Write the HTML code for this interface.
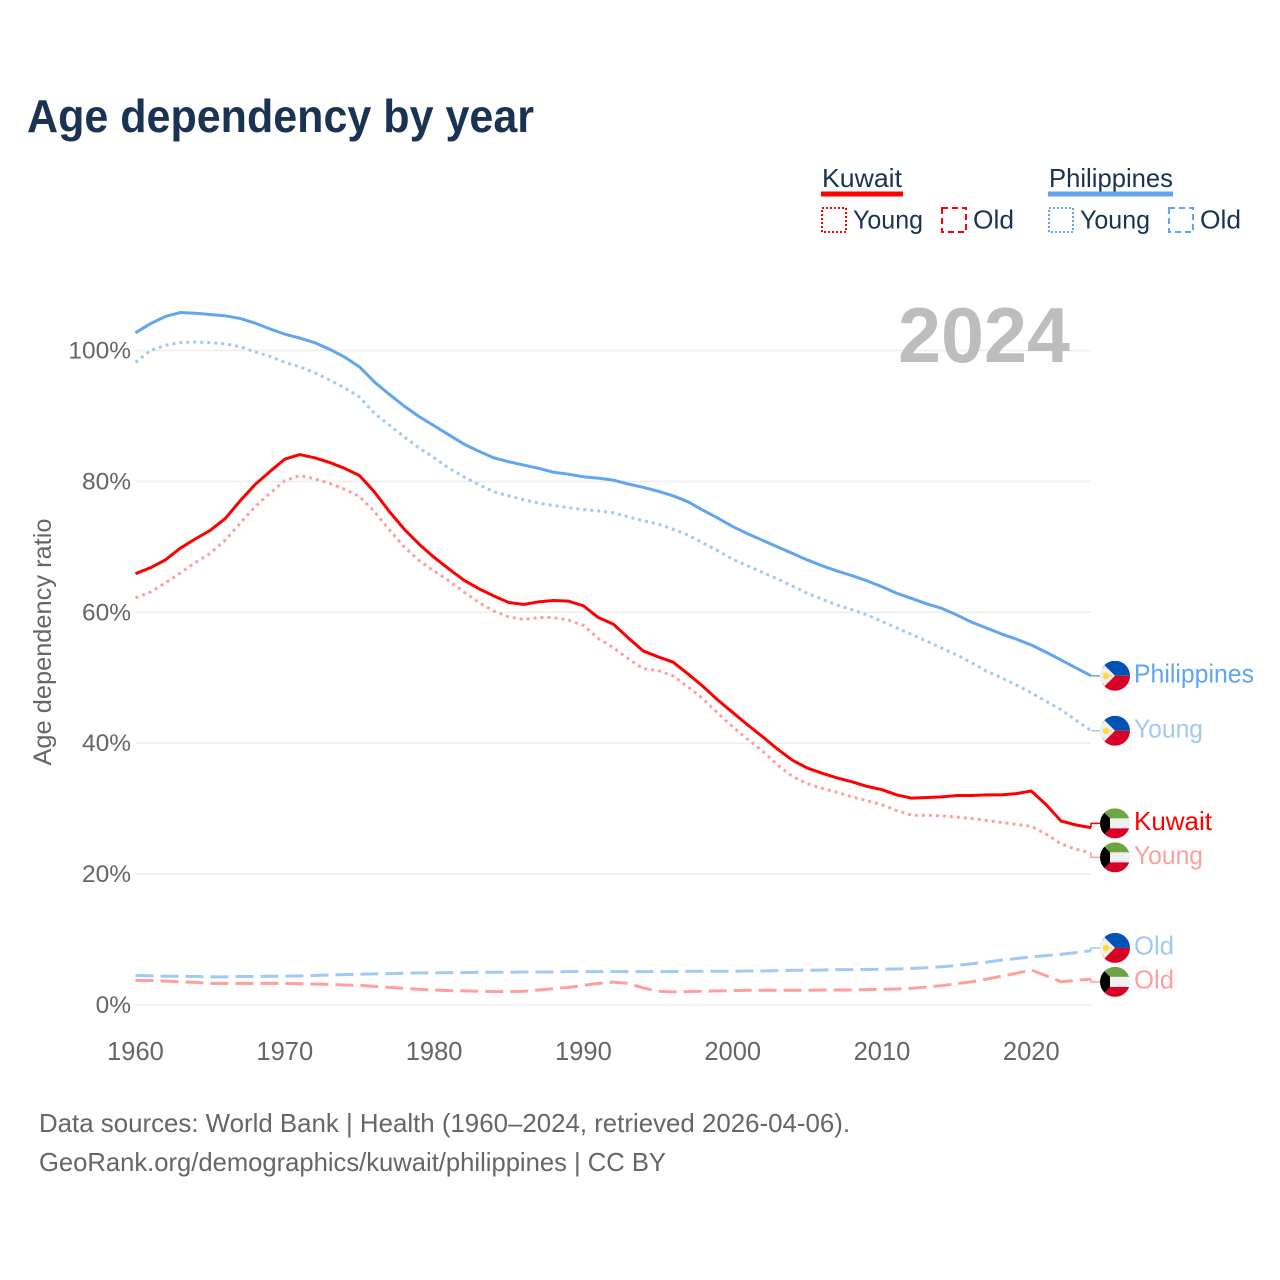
<!DOCTYPE html>
<html lang="en">
<head>
<meta charset="utf-8">
<title>Age dependency by year</title>
<style>
html,body{margin:0;padding:0;background:#fff;}
svg{display:block;font-family:"Liberation Sans",sans-serif;}
</style>
</head>
<body>
<svg id="chart" xmlns="http://www.w3.org/2000/svg" width="1280" height="1280" viewBox="0 0 1280 1280">
  <defs>
    <clipPath id="flag-clip"><circle cx="15" cy="15" r="15"/></clipPath>
    <symbol id="flag-ph" width="30" height="30" viewBox="0 0 30 30">
      <g clip-path="url(#flag-clip)">
        <rect width="30" height="15" fill="#0052b4"/>
        <rect y="15" width="30" height="15" fill="#d80027"/>
        <polygon points="0,0 15,15 0,30" fill="#f0f0f0"/>
        <rect x="0" y="0" width="2" height="30" fill="#f0f0f0"/>
        <circle cx="6" cy="15" r="3.3" fill="#ffda44"/>
        <circle cx="3.5" cy="6.5" r="1" fill="#ffda44"/>
        <circle cx="3.5" cy="23.5" r="1" fill="#ffda44"/>
        <circle cx="11" cy="15" r="1" fill="#ffda44"/>
      </g>
    </symbol>
    <symbol id="flag-kw" width="30" height="30" viewBox="0 0 30 30">
      <g clip-path="url(#flag-clip)">
        <rect width="30" height="10" fill="#6da544"/>
        <rect y="10" width="30" height="10" fill="#f0f0f0"/>
        <rect y="20" width="30" height="10" fill="#d80027"/>
        <polygon points="0,0 10,10 10,20 0,30" fill="#000"/>
      </g>
    </symbol>
  </defs>

  <text x="27" y="132" font-size="46" font-weight="700" fill="#1a3352" textLength="507" lengthAdjust="spacingAndGlyphs">Age dependency by year</text>

  <g font-size="26" fill="#1a3352">
    <text x="822" y="187" textLength="80" lengthAdjust="spacingAndGlyphs">Kuwait</text>
    <rect x="821" y="191.5" width="82" height="5" fill="#ff0000"/>
    <rect x="822" y="208" width="24" height="24" fill="none" stroke="#ff0000" stroke-width="2" stroke-dasharray="2 2"/>
    <text x="853" y="228.5" textLength="70" lengthAdjust="spacingAndGlyphs">Young</text>
    <rect x="942" y="208" width="24" height="24" fill="none" stroke="#ff0000" stroke-width="2" stroke-dasharray="6 4"/>
    <text x="973" y="228.5" textLength="41" lengthAdjust="spacingAndGlyphs">Old</text>
    <text x="1049" y="187" textLength="124" lengthAdjust="spacingAndGlyphs">Philippines</text>
    <rect x="1048" y="191.5" width="125" height="5" fill="#60a5ee"/>
    <rect x="1049" y="208" width="24" height="24" fill="none" stroke="#60a5ee" stroke-width="2" stroke-dasharray="2 2"/>
    <text x="1080" y="228.5" textLength="70" lengthAdjust="spacingAndGlyphs">Young</text>
    <rect x="1169" y="208" width="24" height="24" fill="none" stroke="#60a5ee" stroke-width="2" stroke-dasharray="6 4"/>
    <text x="1200" y="228.5" textLength="41" lengthAdjust="spacingAndGlyphs">Old</text>
  </g>

  <g id="grid"></g>
  <g id="y-ticks"></g>
  <g id="x-ticks"></g>
  <text transform="translate(51,642) rotate(-90)" text-anchor="middle" font-size="25" fill="#666" textLength="247" lengthAdjust="spacingAndGlyphs">Age dependency ratio</text>
  <text id="year-label" x="898" y="362" font-size="78" font-weight="700" fill="#bdbdbd" textLength="172" lengthAdjust="spacingAndGlyphs">2024</text>
  <g id="lines"></g>
  <g id="end-labels"></g>

  <text x="39" y="1132" font-size="26" fill="#666" textLength="811" lengthAdjust="spacingAndGlyphs">Data sources: World Bank | Health (1960–2024, retrieved 2026-04-06).</text>
  <text x="39" y="1171" font-size="26" fill="#666" textLength="627" lengthAdjust="spacingAndGlyphs">GeoRank.org/demographics/kuwait/philippines | CC BY</text>
</svg>
<script>
const startYear = 1960;
const yTickValues = [0, 20, 40, 60, 80, 100];
const xTickYears = [1960, 1970, 1980, 1990, 2000, 2010, 2020];

const philippinesTotal = [102.7,104.1,105.2,105.8,105.7,105.5,105.3,104.9,104.2,103.3,102.5,101.9,101.2,100.2,99.0,97.5,95.2,93.3,91.5,89.9,88.5,87.1,85.7,84.6,83.6,83.0,82.5,82.0,81.4,81.1,80.7,80.5,80.2,79.6,79.1,78.5,77.8,76.9,75.6,74.4,73.1,72.0,71.0,70.0,69.0,68.0,67.1,66.3,65.6,64.8,63.9,62.9,62.1,61.3,60.6,59.6,58.5,57.6,56.7,55.9,55.0,53.9,52.7,51.5,50.3];
const philippinesYoung = [98.2,100.0,100.8,101.2,101.3,101.2,101.0,100.6,99.8,99.1,98.2,97.5,96.6,95.5,94.3,92.9,90.4,88.6,86.8,85.1,83.6,82.0,80.7,79.5,78.4,77.8,77.2,76.7,76.3,76.0,75.7,75.5,75.2,74.6,74.0,73.5,72.7,71.8,70.6,69.4,68.1,67.1,66.1,65.1,64.0,62.9,62.0,61.1,60.4,59.6,58.6,57.6,56.6,55.6,54.5,53.5,52.3,51.0,50.0,48.9,47.7,46.4,45.1,43.5,41.9];
const philippinesOld = [4.5,4.45,4.4,4.4,4.35,4.3,4.3,4.35,4.35,4.4,4.4,4.45,4.5,4.6,4.65,4.7,4.75,4.8,4.85,4.9,4.9,4.95,4.95,5.0,5.0,5.0,5.05,5.05,5.05,5.1,5.1,5.1,5.1,5.1,5.1,5.1,5.1,5.15,5.15,5.15,5.15,5.2,5.2,5.25,5.3,5.3,5.35,5.4,5.4,5.45,5.45,5.5,5.6,5.7,5.85,6.05,6.3,6.55,6.85,7.1,7.35,7.55,7.75,8.0,8.3];
const kuwaitTotal = [65.9,66.8,68.0,69.8,71.2,72.5,74.3,77.0,79.5,81.5,83.4,84.1,83.6,82.9,82.0,80.9,78.4,75.4,72.7,70.4,68.4,66.6,64.9,63.6,62.5,61.5,61.2,61.6,61.8,61.7,61.0,59.2,58.2,56.1,54.1,53.2,52.4,50.6,48.7,46.6,44.7,42.8,41.0,39.1,37.4,36.2,35.4,34.7,34.1,33.4,32.9,32.1,31.6,31.7,31.8,32.0,32.0,32.1,32.1,32.3,32.7,30.6,28.1,27.5,27.1];
const kuwaitYoung = [62.2,63.1,64.5,66.0,67.6,69.0,71.0,73.6,76.1,78.2,80.1,80.9,80.4,79.7,78.8,77.7,75.4,72.6,70.0,67.9,66.3,64.8,63.1,61.5,60.2,59.3,58.9,59.2,59.2,58.8,58.0,56.0,54.6,52.9,51.4,51.1,50.3,48.6,46.8,44.6,42.5,40.6,38.8,36.7,34.9,33.8,33.1,32.5,31.8,31.2,30.6,29.7,29.0,29.0,28.9,28.7,28.5,28.2,27.9,27.6,27.3,26.1,24.6,23.8,23.2];
const kuwaitOld = [3.77,3.75,3.65,3.55,3.45,3.3,3.3,3.3,3.3,3.3,3.3,3.25,3.2,3.15,3.05,3.0,2.85,2.7,2.55,2.4,2.3,2.2,2.15,2.1,2.05,2.03,2.1,2.3,2.5,2.7,3.0,3.3,3.5,3.3,2.6,2.1,2.0,2.05,2.1,2.15,2.2,2.25,2.25,2.25,2.25,2.25,2.3,2.3,2.3,2.35,2.4,2.45,2.55,2.75,2.95,3.25,3.55,3.95,4.4,4.85,5.35,4.45,3.55,3.75,3.95];

const SVG_NS = 'http://www.w3.org/2000/svg';
const xScale = (year) => 135.5 + (year - 1960) * 14.93;
const yScale = (pct) => 1005 - pct * 6.545;

function node(tag, parent, attrs) {
  const el = document.createElementNS(SVG_NS, tag);
  for (const k in attrs) el.setAttribute(k, attrs[k]);
  parent.appendChild(el);
  return el;
}

const gridGroup = document.getElementById('grid');
const yTickGroup = document.getElementById('y-ticks');
yTickValues.forEach((v) => {
  const line = node('line', gridGroup, {x1: 135.5, x2: xScale(2024), y1: yScale(v), y2: yScale(v), stroke: '#eeeeee', 'stroke-width': 1.6});
  
  
  const t = node('text', yTickGroup, {x: 131, y: yScale(v) + 8, 'text-anchor': 'end', 'font-size': 24.5, fill: '#666'});
  t.textContent = v + '%';
  
  
});

const xTickGroup = document.getElementById('x-ticks');
xTickYears.forEach((year) => {
  const t = node('text', xTickGroup, {x: xScale(year), y: 1060, 'text-anchor': 'middle', 'font-size': 25.5, fill: '#666'});
  t.textContent = String(year);
  
  
});

const linesGroup = document.getElementById('lines');
function drawLine(name, values, color, width, dash) {
  const d = values.map((v, i) => (i ? 'L' : 'M') + xScale(startYear + i).toFixed(2) + ' ' + yScale(v).toFixed(2)).join(' ');
  const p = node('path', linesGroup, {d: d, fill: 'none', stroke: color, 'stroke-width': width, 'stroke-linejoin': 'round'});
  if (dash) p.setAttribute('stroke-dasharray', dash);
  
  
}
drawLine('line-philippines-old', philippinesOld, '#a0c9f3', 3, '18 7');
drawLine('line-kuwait-old', kuwaitOld, '#ff9f9f', 3, '18 7');
drawLine('line-philippines-young', philippinesYoung, '#a0c9f3', 3, '3 4');
drawLine('line-kuwait-young', kuwaitYoung, '#ff9f9f', 3, '3 4');
drawLine('line-philippines-total', philippinesTotal, '#60a5ee', 3, null);
drawLine('line-kuwait-total', kuwaitTotal, '#ff0000', 3, null);

/* End labels: positions derive from each series' last value, pushed apart when they collide. */
const endItems = [
  {name: 'philippines-total', text: 'Philippines', values: philippinesTotal, flag: '#flag-ph', color: '#60a5ee'},
  {name: 'philippines-young', text: 'Young', values: philippinesYoung, flag: '#flag-ph', color: '#a0c9f3'},
  {name: 'kuwait-total', text: 'Kuwait', values: kuwaitTotal, flag: '#flag-kw', color: '#ff0000'},
  {name: 'kuwait-young', text: 'Young', values: kuwaitYoung, flag: '#flag-kw', color: '#ff9f9f'},
  {name: 'philippines-old', text: 'Old', values: philippinesOld, flag: '#flag-ph', color: '#a0c9f3'},
  {name: 'kuwait-old', text: 'Old', values: kuwaitOld, flag: '#flag-kw', color: '#ff9f9f'}
];
endItems.forEach((it) => { it.end = yScale(it.values[it.values.length - 1]); it.y = it.end; });
endItems.sort((a, b) => a.end - b.end);
for (let pass = 0; pass < 20; pass++) {
  for (let i = 1; i < endItems.length; i++) {
    const gap = endItems[i].y - endItems[i - 1].y;
    if (gap < 34) {
      const push = (34 - gap) / 2;
      endItems[i - 1].y -= push;
      endItems[i].y += push;
    }
  }
}
const endGroup = document.getElementById('end-labels');
endItems.forEach((it) => {
  const endX = xScale(startYear + it.values.length - 1);
  const c = node('polyline', endGroup, {points: endX + ',' + it.end + ' ' + endX + ',' + it.y + ' 1100,' + it.y, fill: 'none', stroke: it.color, 'stroke-width': 1.5});
  
  
  const u = node('use', endGroup, {href: it.flag, x: 1100, y: it.y - 15, width: 30, height: 30});
  
  
  const t = node('text', endGroup, {x: 1134, y: it.y + 6.5, 'font-size': 26, fill: it.color});
  t.textContent = it.text;
  if (it.text === 'Philippines') t.setAttribute('textLength', 120);
  if (it.text === 'Kuwait') t.setAttribute('textLength', 78);
  if (it.text === 'Young') t.setAttribute('textLength', 69);
  if (it.text === 'Old') t.setAttribute('textLength', 40);
  t.setAttribute('lengthAdjust', 'spacingAndGlyphs');
  
  
});
</script>
</body>
</html>
